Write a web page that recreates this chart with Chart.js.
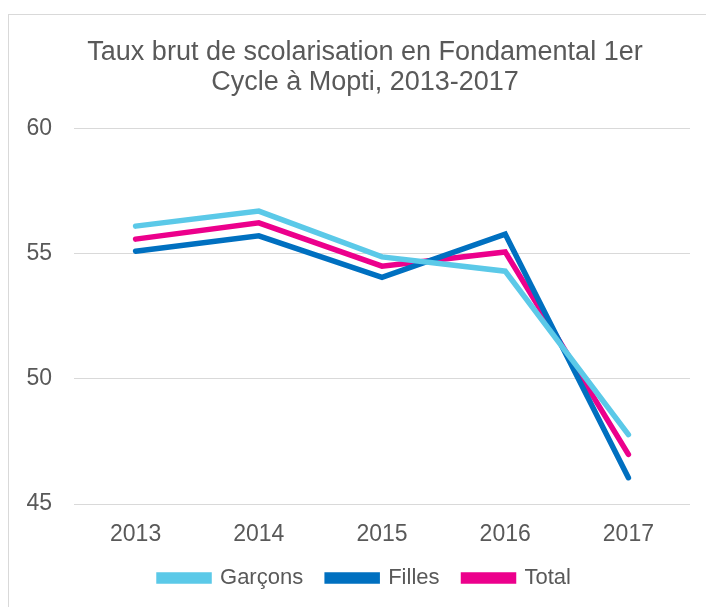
<!DOCTYPE html>
<html>
<head>
<meta charset="utf-8">
<script src="https://cdn.jsdelivr.net/npm/chart.js@4/dist/chart.umd.min.js"></script>
<style>
  html, body { margin: 0; padding: 0; background: #fff; }
  #frame { position: absolute; left: 8px; top: 14px; width: 720px; height: 620px; border: 1px solid #d9d9d9; }
  #wrap { position: absolute; left: 0; top: 0; width: 706px; height: 607px; }
</style>
</head>
<body>
<div id="frame"></div>
<div id="wrap"><canvas id="chart"></canvas></div>
<script>
const annees = ['2013', '2014', '2015', '2016', '2017'];
const garcons = [56.1, 56.7, 54.87, 54.3, 47.77];
const filles = [55.1, 55.71, 54.05, 55.78, 46.05];
const total = [55.58, 56.23, 54.5, 55.07, 46.98];
const titre = ['Taux brut de scolarisation en Fondamental 1er', 'Cycle à Mopti, 2013-2017'];

const police = "'Liberation Sans', Arial, sans-serif";
const gris = '#595959';

function serie(label, data, couleur) {
    return {
        label: label,
        data: data,
        borderColor: couleur,
        backgroundColor: couleur,
        borderWidth: 5.5,
        borderCapStyle: 'round',
        pointRadius: 0,
        tension: 0
    };
}

// the y labels hang over the left padding, so don't let the scale clip them
const pasDeClip = {
    id: 'pasDeClip',
    afterLayout(chart) { chart.scales.y.left = 0; }
};

const ctx = document.getElementById('chart').getContext('2d');
new Chart(ctx, {
    type: 'line',
    data: {
        labels: annees,
        datasets: [
            serie('Garçons', garcons, '#5bc9e8'),
            serie('Filles', filles, '#0070c0'),
            serie('Total', total, '#ec008c')
        ]
    },
    options: {
        responsive: true,
        maintainAspectRatio: false,
        animation: false,
        layout: { padding: { top: 37, right: 16, bottom: 14, left: 40 } },
        plugins: {
            title: {
                display: true,
                text: titre,
                color: gris,
                font: { family: police, size: 27, weight: 'normal', lineHeight: 1.12 },
                padding: { top: 0, bottom: 31 }
            },
            legend: {
                position: 'bottom',
                maxHeight: 50,
                labels: {
                    color: gris,
                    font: { family: police, size: 22 },
                    boxWidth: 50,
                    boxHeight: 6,
                    padding: 24
                }
            },
            tooltip: { enabled: false }
        },
        scales: {
            x: {
                offset: true,
                grid: { display: false, drawTicks: false },
                border: { display: false },
                ticks: { color: gris, font: { family: police, size: 23 }, padding: 17 },
                afterFit: function (scale) { scale.height = 39; }
            },
            y: {
                min: 45,
                max: 60,
                ticks: { stepSize: 5, color: gris, font: { family: police, size: 23 }, padding: 22 },
                grid: { color: '#d9d9d9', drawTicks: false },
                border: { display: false },
                afterFit: function (scale) { scale.width = 34; }
            }
        }
    },
    plugins: [pasDeClip]
});
</script>
</body>
</html>
